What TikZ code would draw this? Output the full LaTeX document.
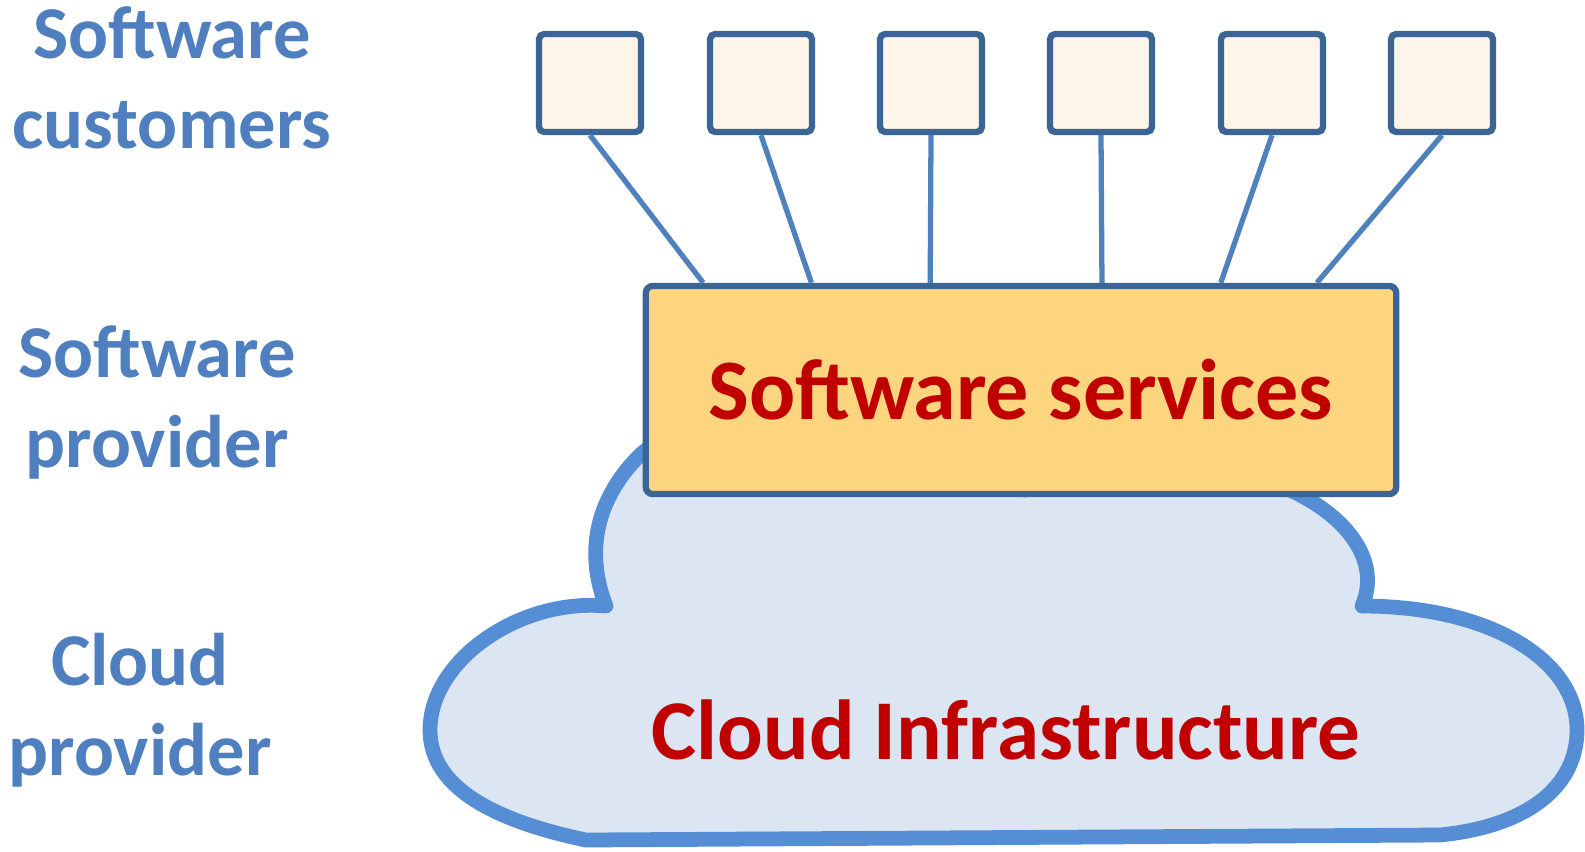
\documentclass[tikz,border=0pt]{standalone}
\usepackage{fontspec}
\setmainfont{Carlito}
\usepackage{tikz}
\usetikzlibrary{positioning}
\usetikzlibrary{calc}
\definecolor{labelblue}{HTML}{4F7FBE}
\definecolor{boxblue}{HTML}{3A6595}
\definecolor{linkblue}{HTML}{4F81BD}
\definecolor{cloudline}{HTML}{558ED5}
\definecolor{cloudfill}{HTML}{DCE6F2}
\definecolor{custfill}{HTML}{FDF4EA}
\definecolor{servfill}{HTML}{FDD57E}
\definecolor{darkred}{HTML}{C00000}
\tikzset {
  % row labels on the left
  layer/.style = {align=center, text=labelblue, font=\bfseries\fontsize{21.2}{25.6}\selectfont},
  % one customer
  customer/.style = {draw=boxblue, fill=custfill, line width=1.8pt, rounded corners=1.5pt,
    minimum width=1.02cm, minimum height=0.98cm, inner sep=0pt},
  % services box
  services/.style = {draw=boxblue, fill=servfill, line width=1.8pt, rounded corners=2pt,
    minimum width=7.5cm, minimum height=2.08cm, text=darkred,
    font=\bfseries\fontsize{24.5}{28}\selectfont},
  link/.style = {draw=linkblue, line width=1.5pt},
  cloud/.style = {draw=cloudline, fill=cloudfill, line width=4.2pt, line join=round},
}

\begin{document}
\begin{tikzpicture}[x=0.01cm, y=-0.01cm]
  \useasboundingbox (0,0) rectangle (1585,851);

  % the cloud, drawn first so the services box sits on it
  \path[cloud] (606,606) .. controls (520,598) and (430,660) .. (430,730)
    .. controls (430,790) and (500,822) .. (586,840)
    -- (1440,835)
    .. controls (1530,826) and (1577,785) .. (1577,730)
    .. controls (1577,660) and (1490,606) .. (1362,606)
    .. controls (1382,560) and (1345,515) .. (1290,490)
    .. controls (1200,430) and (1100,420) .. (1025,490)
    .. controls (900,400) and (700,400) .. (640,455)
    .. controls (590,505) and (588,560) .. (606,606) -- cycle;
  \node[text=darkred, font=\bfseries\fontsize{24.2}{28}\selectfont] (ci) at (1006,730) {Cloud Infrastructure};

  \node[services] (sv) at (1021,390) {Software services};

  \node[customer] (c1) at (590,83) {};
  \node[customer] (c2) at (761,83) {};
  \node[customer] (c3) at (931,83) {};
  \node[customer] (c4) at (1101,83) {};
  \node[customer] (c5) at (1272,83) {};
  \node[customer] (c6) at (1442,83) {};

  \draw[link] (c1.south) -- ($(sv.north west)!0.08!(sv.north east)$);
  \draw[link] (c2.south) -- ($(sv.north west)!0.223!(sv.north east)$);
  \draw[link] (c3.south) -- ($(sv.north west)!0.38!(sv.north east)$);
  \draw[link] (c4.south) -- ($(sv.north west)!0.607!(sv.north east)$);
  \draw[link] (c5.south) -- ($(sv.north west)!0.764!(sv.north east)$);
  \draw[link] (c6.south) -- ($(sv.north west)!0.891!(sv.north east)$);

  \node[layer] (lc) at (172,78) {Software\\customers};
  \node[layer] (lp) at (157,402) {Software\\provider};
  \node[layer] (lcp) at (140,710) {Cloud\\provider};
\end{tikzpicture}
\end{document}
